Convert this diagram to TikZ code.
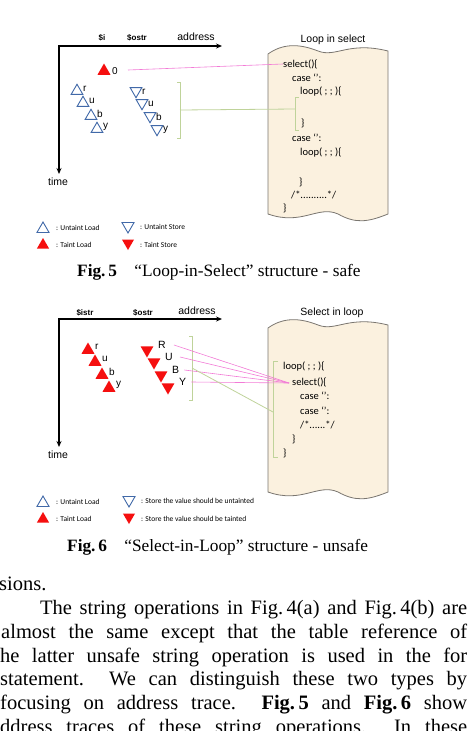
\documentclass[tikz,border=0pt]{standalone}
\usepackage{fontspec}
\setmainfont{Liberation Serif}
\setsansfont{Liberation Sans}
\newfontfamily\codefont{Carlito}
\usetikzlibrary{shapes.geometric,arrows.meta}

\definecolor{paper}{HTML}{FBF1DF}
\definecolor{paperline}{HTML}{7A7670}
\definecolor{tblue}{HTML}{4169A8}
\definecolor{tred}{HTML}{F50F0F}
\definecolor{tpink}{HTML}{F27BD6}
\definecolor{tgreen}{HTML}{BFD39A}

% wavy document box: #1 top, #2 bottom
\newcommand\docbox[2]{%
  \draw[paperbox] (268,#1+4) .. controls (282,#1-6) and (298,#1-7) .. (318,#1+1)
    .. controls (336,#1+8) and (348,#1-9) .. (388,#1+1) -- (388,#2)
    .. controls (368,#2+8) and (356,#2+10) .. (338,#2)
    .. controls (318,#2-9) and (302,#2+12) .. (268,#2) -- cycle;}

\begin{document}
\begin{tikzpicture}[x=1pt,y=-1pt,
    paperbox/.style={fill=paper,draw=paperline,line width=0.8pt},
    axis/.style={line width=1.4pt,{Stealth[length=6pt,width=5pt]}-{Stealth[length=6pt,width=5pt]}},
    tri/.style={regular polygon,regular polygon sides=3,minimum size=13.5pt,inner sep=0pt},
    uload/.style={tri,draw=tblue,line width=0.9pt},
    ustore/.style={uload,shape border rotate=180},
    tload/.style={tri,fill=tred,minimum size=15pt},
    tstore/.style={tload,shape border rotate=180},
    lbl/.style={font=\sffamily\fontsize{10}{11}\selectfont,inner sep=0pt,anchor=west},
    head/.style={font=\sffamily\bfseries\fontsize{8}{9}\selectfont,inner sep=0pt},
    big/.style={font=\sffamily\fontsize{10.5}{12}\selectfont,inner sep=0pt},
    code/.style={font=\codefont\fontsize{10.5}{12}\selectfont,inner sep=0pt,anchor=west},
    leg/.style={font=\codefont\fontsize{7.5}{9}\selectfont,inner sep=0pt,anchor=west},
    legtri/.style={minimum size=14pt},
    bracket/.style={draw=tgreen,line width=0.8pt},
    pinkline/.style={draw=tpink,line width=0.6pt},
    greenline/.style={draw=tgreen,line width=0.8pt},
    figcap/.style={font=\fontsize{17.3}{20}\selectfont,inner sep=0pt,anchor=west},
    para/.style={font=\fontsize{20.5}{24}\selectfont,inner sep=0pt,anchor=base west}]
\useasboundingbox (0,0) rectangle (474,731);
\clip (0,0) rectangle (474,731);

%%% Fig. 5
\coordinate (o5) at (59,46);
\draw[axis] (222,46) -- (o5) -- (59,174);
\node[big] (time5) at (58,182) {time};
\node[big] (addr5) at (196,37) {address};
\node[head] (si5) at (102,38) {\$i};
\node[head] (so5) at (137,38) {\$ostr};

\node[tload] (zero) at (104,71) {};
\node[lbl] (zerol) at (112,71) {0};
\foreach \ch/\x/\y [count=\i] in {r/77/91,u/83/103,b/91/116,y/97/129}{
  \node[uload] (ul\i) at (\x,\y) {};
  \node[lbl] (ull\i) at (\x+6,\y-2) {\ch};
}
\foreach \ch/\x/\y [count=\i] in {r/136/91,u/142/103,b/150/116,y/157/129}{
  \node[ustore] (us\i) at (\x,\y) {};
  \node[lbl] (usl\i) at (\x+6,\y+1) {\ch};
}
\draw[bracket] (177,82) -- (180,82) -- (180,138) -- (177,138);
\coordinate (br5) at (180,110);

\docbox{50}{214}
\node[big] (title5) at (333,40) {Loop in select};
\node[code] (sel5) at (283,64) {select()\{};
\node[code] (c5a) at (292,78) {case ‘’:};
\node[code] (l5a) at (300,92) {loop( ; ; )\{};
\node[code] (e5a) at (301,123) {\}};
\node[code] (c5b) at (292,138) {case ‘’:};
\node[code] (l5b) at (300,153) {loop( ; ; )\{};
\node[code] (e5b) at (299,182) {\}};
\node[code] (cm5) at (291,195) {/*..........*/};
\node[code] (e5c) at (283,208) {\}};
\draw[bracket] (299,97) -- (295,97) -- (295,130) -- (299,130);
\coordinate (ib5) at (295,109);

\coordinate (zs) at (128,70);
\draw[pinkline] (zs) -- (sel5.west);
\draw[greenline] (br5) -- (ib5);

% legend
\node[uload,legtri] (lg1) at (43,229) {};
\node[leg] (lg1t) at (56,228) {: Untaint Load};
\node[ustore,legtri] (lg2) at (128,226) {};
\node[leg] (lg2t) at (140,227) {: Untaint Store};
\node[tload,legtri] (lg3) at (43,245) {};
\node[leg] (lg3t) at (56,245) {: Taint Load};
\node[tstore,legtri] (lg4) at (128,243) {};
\node[leg] (lg4t) at (140,245) {: Taint Store};

\node[figcap] (cap5) at (77,272) {\textbf{Fig.\,5}\quad “Loop-in-Select” structure - safe};

%%% Fig. 6
\coordinate (o6) at (59,319);
\draw[axis] (222,319) -- (o6) -- (59,447);
\node[big] (time6) at (58,455) {time};
\node[big] (addr6) at (197,311) {address};
\node[head] (si6) at (85,313) {\$istr};
\node[head] (so6) at (143,313) {\$ostr};

\foreach \ch/\x/\y [count=\i] in {r/88/350,u/95/362,b/102/375,y/109/388}{
  \node[tload] (tl\i) at (\x,\y) {};
  \node[lbl] (tll\i) at (\x+7,\y-3) {\ch};
}
\foreach \ch/\x/\y [count=\i] in {R/147/350,U/154/362,B/161/375,Y/168/387}{
  \node[tstore] (ts\i) at (\x,\y) {};
  \node[lbl,font=\sffamily\fontsize{10.5}{12}\selectfont] (tsl\i) at (\x+11,\y-5) {\ch};
}
\draw[bracket] (189,336) -- (192,336) -- (192,400) -- (189,400);
\coordinate (br6) at (192,368);

\docbox{324}{492}
\node[big] (title6) at (332,313) {Select in loop};
\node[code] (l6) at (283,367) {loop( ; ; )\{};
\node[code] (sel6) at (292,382) {select()\{};
\node[code] (c6a) at (300,396) {case ‘’:};
\node[code] (c6b) at (300,411) {case ‘’:};
\node[code] (cm6) at (300,425) {/*......*/};
\node[code] (e6a) at (292,439) {\}};
\node[code] (e6b) at (283,453) {\}};
\draw[bracket] (278,361) -- (273,361) -- (273,457) -- (278,457);
\coordinate (ib6) at (273,412);
\coordinate (sp6) at (289,383);

\foreach \i/\dx in {1/8,2/7,3/5,4/5}{
  \draw[pinkline] ([xshift=\dx pt]tsl\i.east) -- (sp6);
}
\draw[greenline] (br6) -- (ib6);

% legend
\node[uload,legtri] (lh1) at (43,503) {};
\node[leg] (lh1t) at (56,502) {: Untaint Load};
\node[ustore,legtri] (lh2) at (129,500) {};
\node[leg] (lh2t) at (141,501) {: Store the value should be untainted};
\node[tload,legtri] (lh3) at (43,519) {};
\node[leg] (lh3t) at (56,519) {: Taint Load};
\node[tstore,legtri] (lh4) at (129,517) {};
\node[leg] (lh4t) at (141,519) {: Store the value should be tainted};

\node[figcap] (cap6) at (67,547) {\textbf{Fig.\,6}\quad “Select-in-Loop” structure - unsafe};

%%% running text
\node[para] (p1) at (-1,590) {sions.};
\node[para] (p2) at (40,614) {\makebox[427pt][s]{The string operations in Fig.\,4(a) and Fig.\,4(b) are}};
\node[para] (p3) at (1,638) {\makebox[466pt][s]{almost the same except that the table reference of}};
\node[para] (p4) at (0,662) {\makebox[467pt][s]{he latter unsafe string operation is used in the for}};
\node[para] (p5) at (0,685) {\makebox[467pt][s]{statement.\ \ We can distinguish these two types by}};
\node[para] (p6) at (0,709) {\makebox[467pt][s]{focusing on address trace.\ \ \textbf{Fig.\,5} and \textbf{Fig.\,6} show}};
\node[para] (p7) at (0,733) {\makebox[467pt][s]{ddress traces of these string operations.\ \ In these}};
\end{tikzpicture}
\end{document}
